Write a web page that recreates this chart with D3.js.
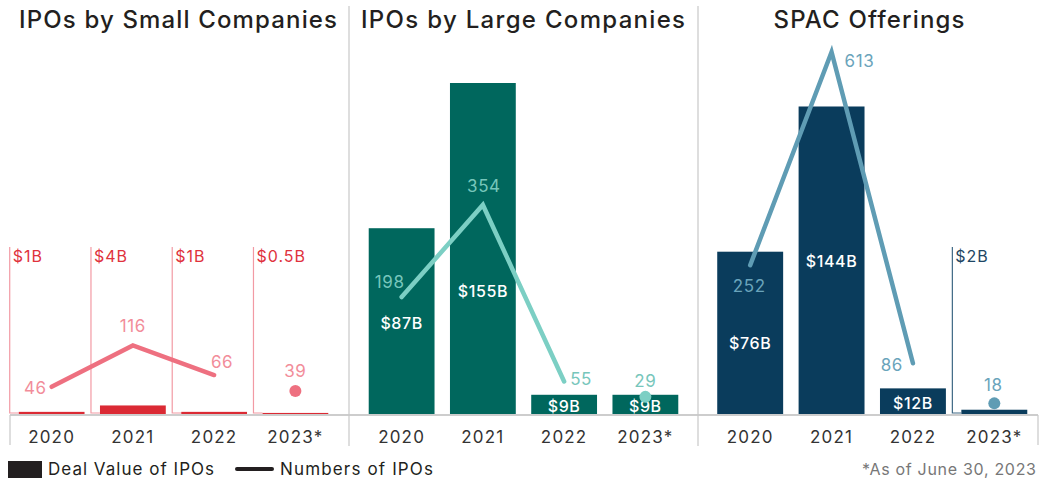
<!DOCTYPE html>
<html>
<head>
<meta charset="utf-8">
<script src="https://cdn.jsdelivr.net/npm/d3@7"></script>
<style>
  body { margin: 0; background: #fff; }
  svg { display: block; font-family: Inter, "Open Sans", sans-serif; }
</style>
</head>
<body>
<div id="chart"></div>
<script>
// data
const years = ['2020', '2021', '2022', '2023*'];

const smallValue = [1, 4, 1, 0.5];
const smallCount = [46, 116, 66, 39];

const largeValue = [87, 155, 9, 9];
const largeCount = [198, 354, 55, 29];

const spacValue = [76, 144, 12, 2];
const spacCount = [252, 613, 86, 18];

const titles = ['IPOs by Small Companies', 'IPOs by Large Companies', 'SPAC Offerings'];

const width = 1039, height = 482;
const baseY = 414;
const calloutTop = 247;

// panel layout
const panels = [
  {
    title: titles[0], titleWidth: 318, values: smallValue, counts: smallCount,
    range: [11, 336], center: 178,
    bar: '#db2a34', line: '#ee7080', countText: '#f28d9a',
    callLine: '#f29aa4', callText: '#e0323c',
    countDx: [-5, 0, 8, 0], countDy: [7, -13, -7, -14], countAnchor: ['end', 'middle', 'middle', 'middle'],
    valueDy: [0, 0, 0, 0]
  },
  {
    title: titles[1], titleWidth: 324, values: largeValue, counts: largeCount,
    range: [361, 686], center: 523,
    bar: '#00675d', line: '#7ccfc4', countText: '#77c6bb',
    callLine: '#00675d', callText: '#00675d',
    countDx: [-12, 1, 6, 0], countDy: [-9, -13, 3, -10], countAnchor: ['middle', 'middle', 'start', 'middle'],
    valueDy: [2, 42, 2, 2]
  },
  {
    title: titles[2], titleWidth: 191, values: spacValue, counts: spacCount,
    range: [709.5, 1035], center: 869,
    bar: '#0a3c5c', line: '#5f9cb4', countText: '#6aa4bb',
    callLine: '#3e6884', callText: '#1e4664',
    countDx: [-1, 13, -10, -1], countDy: [27, 15, 8, -12], countAnchor: ['middle', 'start', 'end', 'middle'],
    valueDy: [10, 1, 2, 2]
  }
];

const svg = d3.select('#chart').append('svg')
  .attr('width', width)
  .attr('height', height);

const y = d3.scaleLinear().domain([0, 155]).range([baseY, 83]);
const yCount = d3.scaleLinear().domain([0, 613]).range([baseY, 52]);

// separators and baseline
svg.append('line')
  .attr('x1', 10).attr('x2', 1038).attr('y1', baseY + 1).attr('y2', baseY + 1)
  .attr('stroke', '#bdbdbd').attr('stroke-width', 1.5);
[10, 1038].forEach(x => {
  svg.append('line').attr('x1', x).attr('x2', x).attr('y1', baseY + 1).attr('y2', 445)
    .attr('stroke', '#c8c8c8').attr('stroke-width', 1.2);
});
[349, 698].forEach(x => {
  svg.append('line').attr('x1', x).attr('x2', x).attr('y1', 6).attr('y2', 446)
    .attr('stroke', '#c8c8c8').attr('stroke-width', 1.2);
});

panels.forEach(p => {
  const g = svg.append('g');
  const x = d3.scaleBand().domain(years).range(p.range).paddingInner(0.19).paddingOuter(0.095);
  const cx = d => x(d) + x.bandwidth() / 2;

  g.append('text')
    .attr('x', p.center).attr('y', 28)
    .attr('text-anchor', 'middle')
    .attr('font-size', 24).attr('font-weight', 500)
    .attr('textLength', p.titleWidth).attr('lengthAdjust', 'spacing')
    .attr('fill', '#231f20')
    .text(p.title);

  // bars
  g.selectAll('rect.bar')
    .data(p.values)
    .join('rect')
    .attr('class', 'bar')
    .attr('x', (d, i) => x(years[i]))
    .attr('width', x.bandwidth())
    .attr('y', d => y(d))
    .attr('height', d => baseY - y(d))
    .attr('fill', p.bar);

  // value labels: callouts for tiny bars, inside otherwise
  p.values.forEach((v, i) => {
    const label = '$' + v + 'B';
    if (v < 5) {
      const lx = x(years[i]) - 9;
      g.append('path')
        .attr('d', `M${lx},${calloutTop}V${baseY - 1}H${x(years[i])}`)
        .attr('fill', 'none')
        .attr('stroke', p.callLine).attr('stroke-width', 1.2);
      g.append('text')
        .attr('x', lx + 3).attr('y', calloutTop + 15)
        .attr('font-size', 16).attr('letter-spacing', 1)
        .attr('fill', p.callText)
        .text(label);
    } else {
      g.append('text')
        .attr('x', cx(years[i])).attr('y', (y(v) + baseY) / 2 + p.valueDy[i] + 6)
        .attr('text-anchor', 'middle')
        .attr('font-size', 16).attr('font-weight', 500).attr('letter-spacing', 0.6)
        .attr('fill', '#fff')
        .text(label);
    }
  });

  // count line (first three years) and dot (2023)
  const line = d3.line()
    .x((d, i) => cx(years[i]))
    .y(d => yCount(d));
  g.append('path')
    .datum(p.counts.slice(0, 3))
    .attr('d', line)
    .attr('fill', 'none')
    .attr('stroke', p.line).attr('stroke-width', 4.5)
    .attr('stroke-linecap', 'round').attr('stroke-linejoin', 'miter');
  g.append('circle')
    .attr('cx', cx(years[3])).attr('cy', yCount(p.counts[3]))
    .attr('r', 6)
    .attr('fill', p.line);

  g.selectAll('text.count')
    .data(p.counts)
    .join('text')
    .attr('class', 'count')
    .attr('x', (d, i) => cx(years[i]) + p.countDx[i])
    .attr('y', (d, i) => yCount(d) + p.countDy[i])
    .attr('text-anchor', (d, i) => p.countAnchor[i])
    .attr('font-size', 17).attr('letter-spacing', 0.6)
    .attr('fill', p.countText)
    .text(d => d);

  // year axis
  const axis = g.append('g')
    .attr('transform', `translate(0,${baseY + 1})`)
    .call(d3.axisBottom(x).tickSize(0).tickPadding(16));
  axis.select('.domain').remove();
  axis.selectAll('text')
    .attr('font-size', 17).attr('font-family', 'Inter, sans-serif')
    .attr('letter-spacing', 1.2)
    .attr('fill', '#333');
});

// legend
const legend = svg.append('g');
legend.append('rect').attr('x', 8).attr('y', 461).attr('width', 34).attr('height', 17).attr('fill', '#231f20');
legend.append('text').attr('x', 48).attr('y', 475).attr('font-size', 17)
  .attr('textLength', 166).attr('lengthAdjust', 'spacing')
  .attr('fill', '#231f20').text('Deal Value of IPOs');
legend.append('line').attr('x1', 237).attr('x2', 272).attr('y1', 469).attr('y2', 469)
  .attr('stroke', '#231f20').attr('stroke-width', 4).attr('stroke-linecap', 'round');
legend.append('text').attr('x', 280).attr('y', 475).attr('font-size', 17)
  .attr('textLength', 153).attr('lengthAdjust', 'spacing')
  .attr('fill', '#231f20').text('Numbers of IPOs');
legend.append('text').attr('x', 862).attr('y', 475)
  .attr('font-size', 16).attr('textLength', 174).attr('lengthAdjust', 'spacing')
  .attr('fill', '#777').text('*As of June 30, 2023');
</script>
</body>
</html>
